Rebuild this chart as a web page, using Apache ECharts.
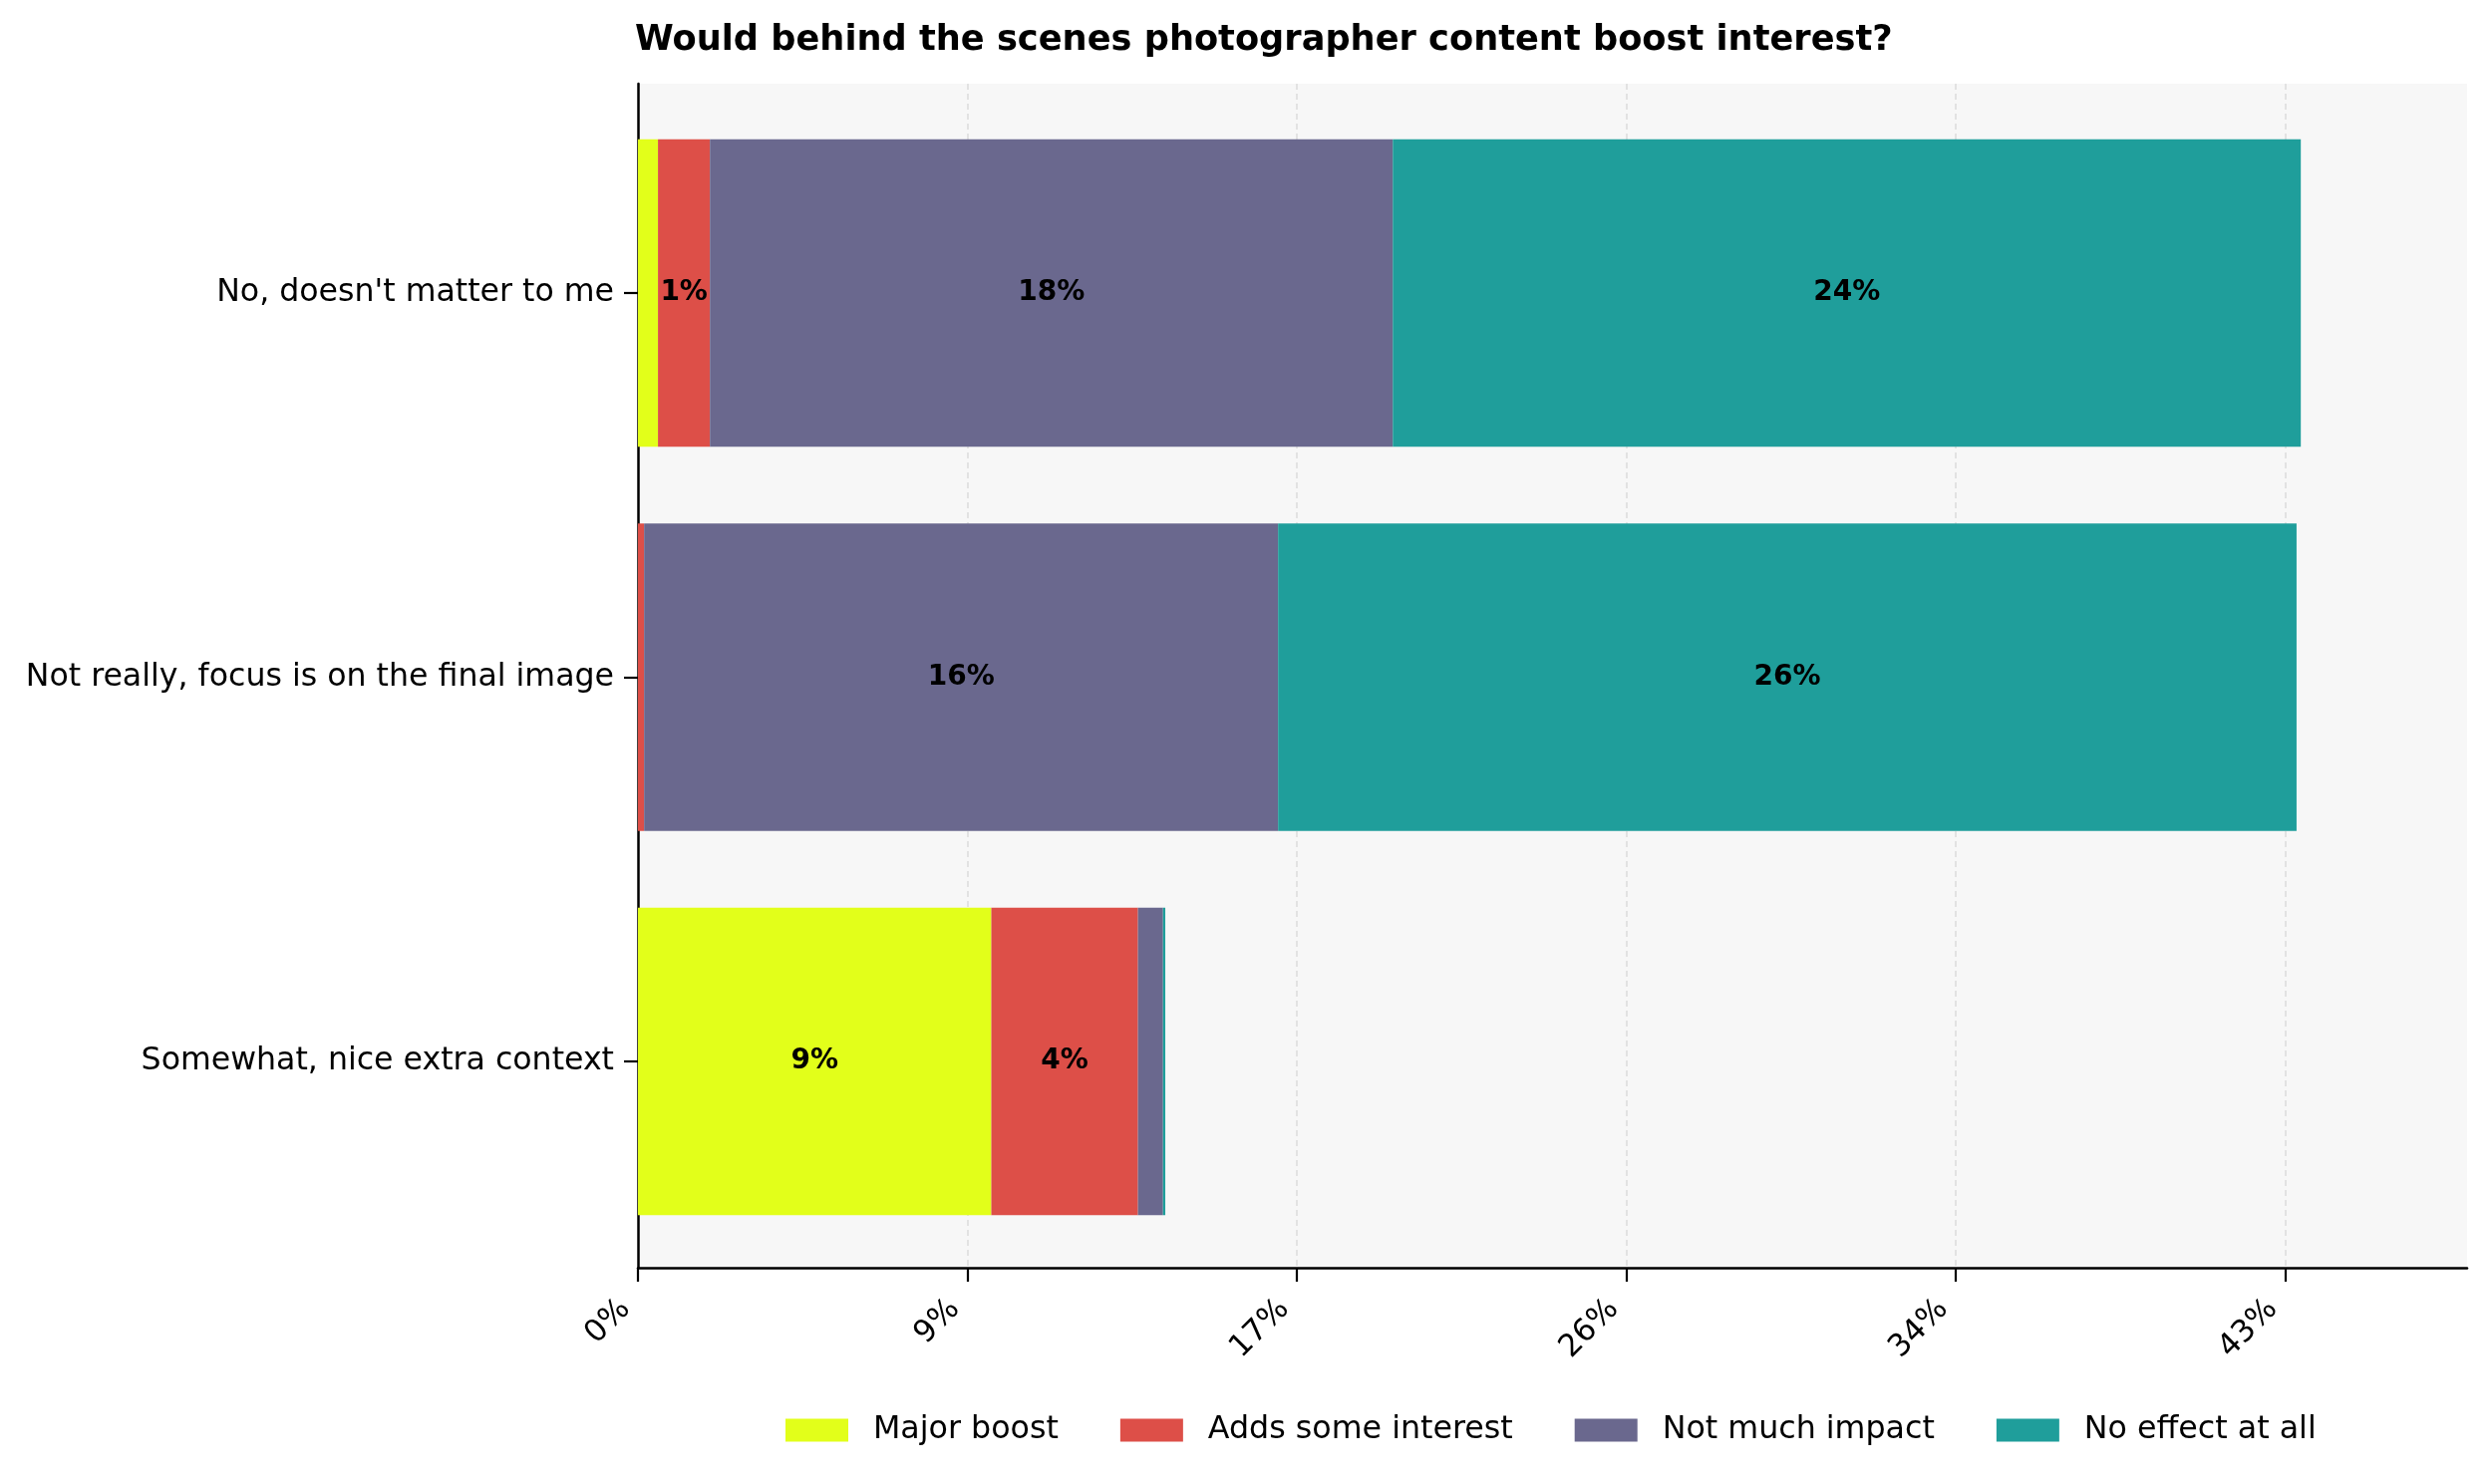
<!DOCTYPE html>
<html>
<head>
<meta charset="utf-8">
<script src="https://cdn.jsdelivr.net/npm/echarts@6/dist/echarts.min.js"></script>
<style>
html,body{margin:0;padding:0;background:#ffffff;}
#chart{width:2500px;height:1489px;}
</style>
</head>
<body>
<div id="chart"></div>
<script>
const titleText = "Would behind the scenes photographer content boost interest?";
const categories = ["No, doesn't matter to me", "Not really, focus is on the final image", "Somewhat, nice extra context"];
const seriesNames = ["Major boost", "Adds some interest", "Not much impact", "No effect at all"];
const majorBoost = [0.52, 0, 9.18];
const addsSomeInterest = [1.35, 0.16, 3.81];
const notMuchImpact = [17.74, 16.47, 0.65];
const noEffectAtAll = [23.59, 26.46, 0.06];
const tickValues = [0, 8.56, 17.12, 25.68, 34.24, 42.8];
const colors = ["#e2ff1a", "#dd4f48", "#6a688e", "#1f9e9b"];

const seriesValues = [majorBoost, addsSomeInterest, notMuchImpact, noEffectAtAll];
const totals = categories.map((c, i) => seriesValues.reduce((s, arr) => s + arr[i], 0));
const xMax = Math.max(...totals) * 1.1;
const tickStep = tickValues[1] - tickValues[0];
const FONT = "DejaVu Sans";

const chart = echarts.init(document.getElementById('chart'), null, {renderer: 'canvas'});
const option = {
  backgroundColor: '#ffffff',
  animation: false,
  title: {
    text: titleText,
    left: 632,
    top: 18,
    textStyle: {fontFamily: FONT, fontWeight: 'bold', fontSize: 35.2, color: '#000'}
  },
  legend: {
    data: seriesNames,
    left: 783,
    top: 1414,
    icon: 'rect',
    itemWidth: 63,
    itemHeight: 23,
    itemGap: 62,
    textStyle: {fontFamily: FONT, fontSize: 31.7, color: '#000', padding: [0, 0, 0, 20]}
  },
  grid: [
    {left: 640, right: 25, top: 84, bottom: 217, show: true, backgroundColor: '#f7f7f7', borderWidth: 0},
    {left: 640, right: 25, top: 101.25, bottom: 231.25, show: false}
  ],
  xAxis: [
    {
      type: 'value', gridIndex: 0, min: 0, max: xMax, interval: tickStep,
      axisLine: {show: true, lineStyle: {color: '#000', width: 2.5}},
      axisTick: {show: true, length: 14, customValues: tickValues, lineStyle: {color: '#000', width: 2.2}},
      axisLabel: {
        show: true, rotate: 45, margin: 24, customValues: tickValues,
        fontFamily: FONT, fontSize: 31, color: '#000', padding: [0, 18, 0, 0],
        formatter: v => Math.round(v) + '%'
      },
      splitLine: {show: true, showMinLine: false, lineStyle: {color: '#dcdcdc', width: 1.5, type: [6, 4]}}
    },
    {type: 'value', gridIndex: 1, min: 0, max: xMax, show: false}
  ],
  yAxis: [
    {
      type: 'value', gridIndex: 0, min: 0, max: 1,
      axisLine: {show: true, lineStyle: {color: '#000', width: 2.5}},
      axisTick: {show: false}, axisLabel: {show: false}, splitLine: {show: false}
    },
    {
      type: 'category', gridIndex: 1, data: categories, inverse: true,
      axisLine: {show: false},
      axisTick: {show: true, alignWithLabel: true, length: 14, lineStyle: {color: '#000', width: 2.2}},
      axisLabel: {fontFamily: FONT, fontSize: 31.6, color: '#000', margin: 24},
      splitLine: {show: false}
    }
  ],
  series: seriesNames.map((name, k) => ({
    name: name,
    type: 'bar',
    xAxisIndex: 1,
    yAxisIndex: 1,
    stack: 'total',
    barWidth: '80%',
    itemStyle: {color: colors[k]},
    label: {
      show: true, position: 'inside',
      fontFamily: FONT, fontWeight: 'bold', fontSize: 28, color: '#000',
      formatter: p => (p.value >= 1 ? Math.round(p.value) + '%' : '')
    },
    data: seriesValues[k]
  }))
};
chart.setOption(option);
</script>
</body>
</html>
